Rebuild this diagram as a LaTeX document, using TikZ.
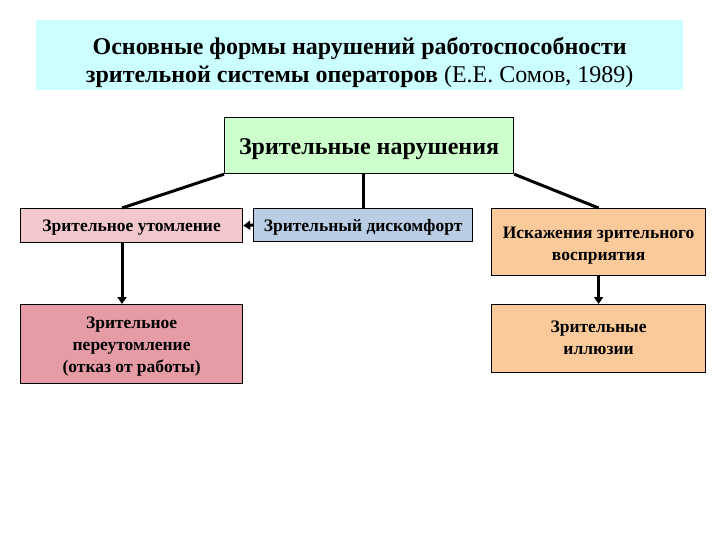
\documentclass[tikz,border=0pt]{standalone}
\usepackage{fontspec}
\setmainfont{Liberation Serif}
\usetikzlibrary{arrows.meta,calc}
\definecolor{titlecyan}{HTML}{CCFFFF}
\definecolor{topgreen}{HTML}{CCFFCC}
\definecolor{pinklight}{HTML}{F2C8CD}
\definecolor{pinkdark}{HTML}{E69CA5}
\definecolor{bluebox}{HTML}{B9CDE5}
\definecolor{orangebox}{HTML}{FBCA9B}
\newcommand{\lowerby}[2]{\raisebox{-#1}[\height][\depth]{#2}}
\tikzset{
  box/.style={draw=black, line width=1.2pt, anchor=north west, inner sep=0pt, align=center, font=\bfseries\fontsize{17.5}{22}\selectfont},
  conn/.style={line width=3pt, black},
  arr/.style={line width=3pt, black, -{Triangle[width=9pt,length=7pt]}}
}
\begin{document}
\begin{tikzpicture}[x=1pt,y=-1pt]
\useasboundingbox (0,0) rectangle (720,540);
\node[fill=titlecyan, anchor=north west, minimum width=647pt, minimum height=70pt, inner sep=0pt] (title) at (36,20) {};
\node[align=center, inner sep=0pt, font=\fontsize{24}{28}\selectfont] (titletext) at ([yshift=-7pt]title.center)
  {\textbf{Основные формы нарушений работоспособности}\\\textbf{зрительной системы операторов} (Е.Е. Сомов, 1989)};
\node[box, fill=topgreen, minimum width=289pt, minimum height=56pt, font=\bfseries\fontsize{24}{28}\selectfont] (g) at (224,117) {\lowerby{4pt}{Зрительные нарушения}};
\node[box, fill=pinklight, minimum width=222pt, minimum height=34pt] (b1) at (20,208) {\lowerby{2pt}{Зрительное утомление}};
\node[box, fill=bluebox, minimum width=219pt, minimum height=33pt] (b2) at (253,208) {\lowerby{2pt}{Зрительный дискомфорт}};
\node[box, fill=orangebox, minimum width=214pt, minimum height=67pt] (b3) at (491,208) {\lowerby{3pt}{\begin{tabular}{@{}c@{}}Искажения зрительного\\восприятия\end{tabular}}};
\node[box, fill=pinkdark, minimum width=222pt, minimum height=79pt] (b4) at (20,304) {\lowerby{2pt}{\begin{tabular}{@{}c@{}}Зрительное\\переутомление\\(отказ от работы)\end{tabular}}};
\node[box, fill=orangebox, minimum width=214pt, minimum height=68pt] (b5) at (491,304) {\begin{tabular}{@{}c@{}}Зрительные\\иллюзии\end{tabular}};
\draw[conn] (g.south west) -- ([xshift=102pt]b1.north west);
\draw[conn] (g.south -| b2.north) -- (b2.north);
\draw[conn] (g.south east) -- (b3.north);
\draw[arr] ([xshift=102pt]b1.south west) -- ([xshift=102pt]b4.north west);
\draw[arr] (b3.south) -- (b5.north);
\draw[arr] (b2.west) -- (b1.east);
\end{tikzpicture}
\end{document}
